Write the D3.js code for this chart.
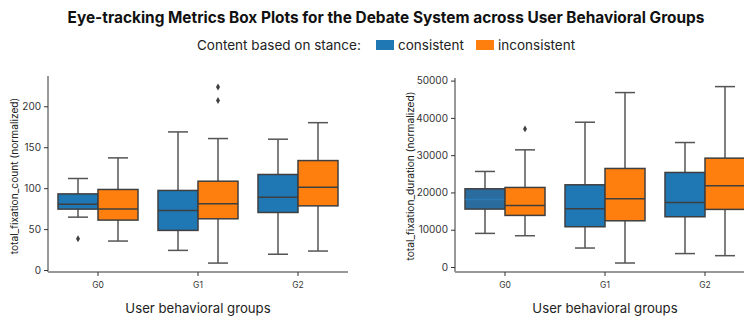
<!DOCTYPE html>
<html>
<head>
<meta charset="utf-8">
<script src="https://cdn.jsdelivr.net/npm/d3@7"></script>
<style>
  body { margin: 0; background: #fff; }
  svg { font-family: Inter, "Noto Sans", sans-serif; }
</style>
</head>
<body>
<div id="chart"></div>
<script>
// Data
//-----------
var groups = ["G0", "G1", "G2"];
var stances = ["consistent", "inconsistent"];
var colors = ["#1f77b4", "#ff7f0e"];

// [lower whisker, q1, median, q3, upper whisker] per group, per stance
var countConsistent   = [[64.6, 74.4, 80.5, 93, 111.8], [24, 48.4, 72.8, 97.2, 168.7], [19.3, 70.3, 89, 116.7, 159.8]];
var countInconsistent = [[35.4, 61, 74.4, 98.4, 137], [8.5, 62.6, 80.9, 108.5, 160.6], [23.2, 78.4, 101, 133.7, 180]];
var countOutliers     = [{g: "G0", s: 0, v: 38.2}, {g: "G1", s: 1, v: 207}, {g: "G1", s: 1, v: 223.6}];

var durConsistent   = [[9020, 15540, 18130, 20980, 25630], [5090, 10800, 15620, 22050, 38840], [3600, 13480, 17320, 25360, 33390]];
var durInconsistent = [[8390, 13840, 16520, 21340, 31430], [1070, 12400, 18300, 26430, 46790], [3040, 15450, 21790, 29200, 48390]];
var durOutliers     = [{g: "G0", s: 1, v: 37050}];

var countTicks = [0, 50, 100, 150, 200];
var durTicks = [0, 10000, 20000, 30000, 40000, 50000];

var w = 744, h = 316;

var svg = d3.select("#chart").append("svg")
  .attr("width", w)
  .attr("height", h);

// Title + legend
//-----------
svg.append("text")
  .text("Eye-tracking Metrics Box Plots for the Debate System across User Behavioral Groups")
  .attr("x", 386).attr("y", 23)
  .attr("text-anchor", "middle")
  .attr("font-size", "15.4px")
  .attr("font-weight", "bold")
  .attr("fill", "#111");

var legend = svg.append("g");
legend.append("text")
  .text("Content based on stance:")
  .attr("x", 197).attr("y", 50)
  .attr("font-size", "13.5px")
  .attr("fill", "#222");
var legX = [376, 476];
stances.forEach(function(s, i) {
  legend.append("rect")
    .attr("x", legX[i]).attr("y", 40)
    .attr("width", 18).attr("height", 10)
    .attr("fill", colors[i]);
  legend.append("text")
    .text(s)
    .attr("x", legX[i] + 22).attr("y", 50)
    .attr("font-size", "13.5px")
    .attr("fill", "#222");
});

// Panels
//-----------
function panel(opt) {
  var g = svg.append("g");
  var x = d3.scaleBand(groups, [opt.x0, opt.x0 + 300]).paddingInner(0).paddingOuter(0);
  var xs = d3.scaleBand(d3.range(2), [0, x.bandwidth()]).paddingOuter(0.25).paddingInner(0);
  var y = d3.scaleLinear(opt.domain, [272, opt.top]);

  // y axis
  var yAxis = g.append("g")
    .attr("transform", "translate(" + opt.x0 + ",0)")
    .call(d3.axisLeft(y).tickValues(opt.ticks).tickSize(4).tickPadding(3).tickFormat(d3.format("d")));
  yAxis.select(".domain").attr("stroke", "#333").attr("d", "M0," + y(opt.domain[0]) + "V" + opt.top);
  yAxis.selectAll(".tick line").attr("stroke", "#333");
  yAxis.selectAll("text").attr("font-family", "Inter, sans-serif").attr("font-size", "10px").attr("fill", "#333");

  // x axis
  var xAxis = g.append("g")
    .attr("transform", "translate(0,272)")
    .call(d3.axisBottom(x).tickSize(4).tickPadding(6));
  xAxis.select(".domain").attr("stroke", "#999").attr("stroke-width", 2).attr("d", "M" + opt.x0 + ",0H" + (opt.x0 + 300));
  xAxis.selectAll(".tick line").attr("stroke", "#333");
  xAxis.selectAll("text").attr("font-family", "Inter, sans-serif").attr("font-size", "8.5px").attr("fill", "#333");

  g.append("text")
    .text(opt.ylabel)
    .attr("transform", "translate(" + opt.ylabelX + "," + 176 + ") rotate(-90)")
    .attr("text-anchor", "middle")
    .attr("font-size", "10.2px")
    .attr("fill", "#222");

  g.append("text")
    .text("User behavioral groups")
    .attr("x", opt.x0 + 150).attr("y", 313)
    .attr("text-anchor", "middle")
    .attr("font-size", "13.2px")
    .attr("fill", "#222");

  // Boxes
  //-----------
  var boxes = [];
  opt.series.forEach(function(arr, si) {
    arr.forEach(function(st, gi) {
      boxes.push({g: groups[gi], s: si, st: st});
    });
  });

  var bw = xs.bandwidth();
  var box = g.selectAll(".box")
    .data(boxes)
    .enter()
    .append("g")
    .attr("transform", function(d) { return "translate(" + (x(d.g) + xs(d.s)) + ",0)"; });

  // whiskers
  box.append("line")
    .attr("x1", bw / 2).attr("x2", bw / 2)
    .attr("y1", function(d) { return y(d.st[0]); })
    .attr("y2", function(d) { return y(d.st[1]); })
    .attr("stroke", "#555").attr("stroke-width", 1.5);
  box.append("line")
    .attr("x1", bw / 2).attr("x2", bw / 2)
    .attr("y1", function(d) { return y(d.st[3]); })
    .attr("y2", function(d) { return y(d.st[4]); })
    .attr("stroke", "#555").attr("stroke-width", 1.5);
  box.selectAll(".cap")
    .data(function(d) { return [d.st[0], d.st[4]]; })
    .enter()
    .append("line")
    .attr("x1", bw / 4).attr("x2", bw * 3 / 4)
    .attr("y1", function(v) { return y(v); })
    .attr("y2", function(v) { return y(v); })
    .attr("stroke", "#555").attr("stroke-width", 1.5);

  box.append("rect")
    .attr("x", 0).attr("width", bw)
    .attr("y", function(d) { return y(d.st[3]); })
    .attr("height", function(d) { return y(d.st[1]) - y(d.st[3]); })
    .attr("fill", function(d) { return (opt.darkFirst && d.g === "G0" && d.s === 0) ? "#2a6c9e" : colors[d.s]; })
    .attr("stroke", "#3f3f3f").attr("stroke-width", 1.5);

  box.append("line")
    .attr("x1", 0).attr("x2", bw)
    .attr("y1", function(d) { return y(d.st[2]); })
    .attr("y2", function(d) { return y(d.st[2]); })
    .attr("stroke", function(d) { return (opt.darkFirst && d.g === "G0" && d.s === 0) ? "#2b7ab8" : "#3f3f3f"; })
    .attr("stroke-width", 1.5);

  // outliers
  g.selectAll(".outlier")
    .data(opt.outliers)
    .enter()
    .append("path")
    .attr("d", d3.symbol(d3.symbolDiamond2, 18))
    .attr("transform", function(d) { return "translate(" + (x(d.g) + xs(d.s) + bw / 2) + "," + y(d.v) + ") scale(0.75,1.3)"; })
    .attr("fill", "#3f3f3f");
}

panel({
  x0: 48, top: 76, domain: [-2.4, 237], ticks: countTicks,
  series: [countConsistent, countInconsistent],
  outliers: countOutliers,
  ylabel: "total_fixation_count (normalized)", ylabelX: 18
});

panel({
  x0: 455, top: 78, domain: [-1340, 50700], ticks: durTicks,
  series: [durConsistent, durInconsistent],
  outliers: durOutliers, darkFirst: true,
  ylabel: "total_fixation_duration (normalized)", ylabelX: 414
});
</script>
</body>
</html>
